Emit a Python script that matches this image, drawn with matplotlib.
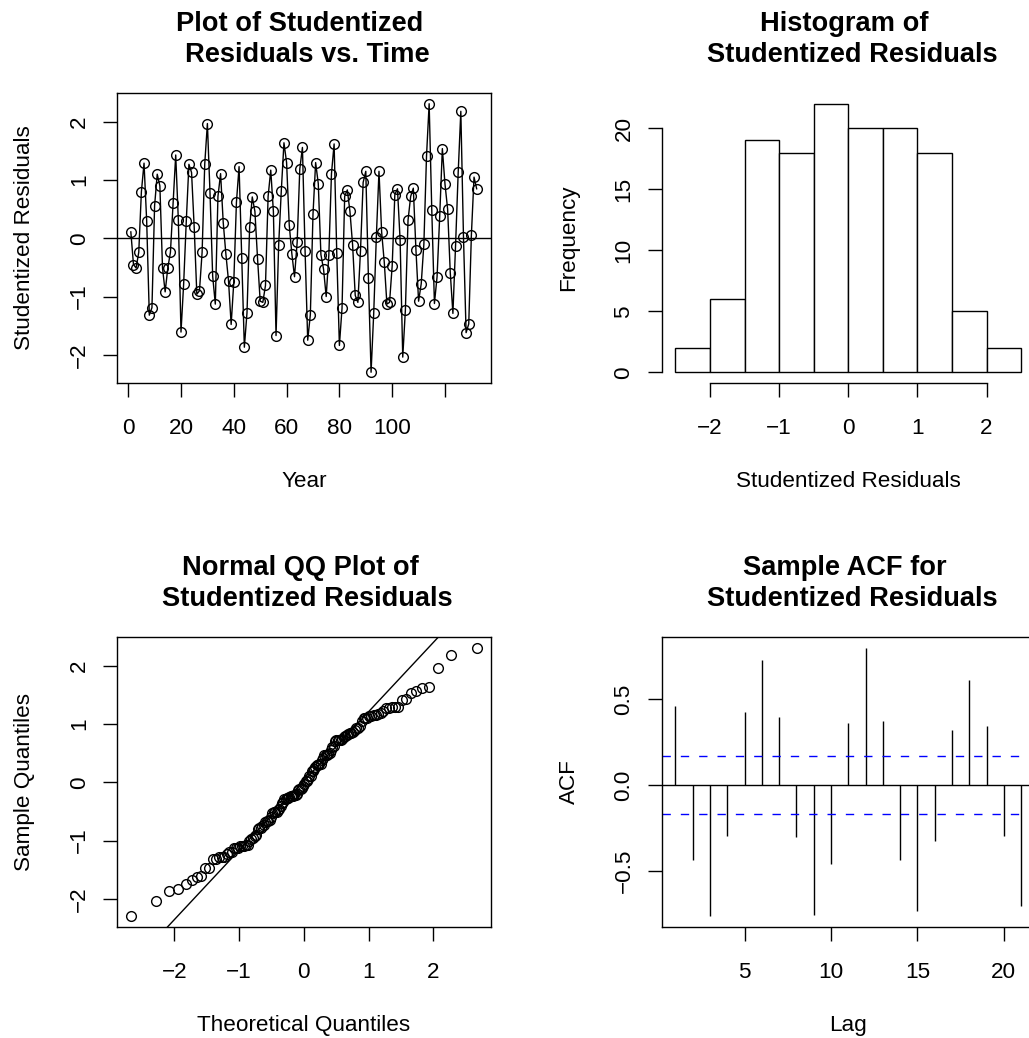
import numpy as np
import matplotlib
matplotlib.use("Agg")
import matplotlib.pyplot as plt
from statistics import NormalDist

# ---------------- data ----------------
resid = [0.11, -0.45, -0.51, -0.24, 0.80, 1.29, 0.30, -1.32, -1.19, 0.56,
         1.10, 0.90, -0.51, -0.92, -0.51, -0.24, 0.60, 1.43, 0.31, -1.61,
         -0.79, 0.29, 1.27, 1.13, 0.19, -0.96, -0.90, -0.24, 1.28, 1.97,
         0.77, -0.65, -1.13, 0.72, 1.11, 0.27, -0.27, -0.73, -1.48, -0.75,
         0.62, 1.23, -0.34, -1.87, -1.28, 0.19, 0.71, 0.46, -0.35, -1.08,
         -1.10, -0.81, 0.72, 1.17, 0.46, -1.67, -0.11, 0.82, 1.64, 1.30,
         0.23, -0.27, -0.66, -0.07, 1.19, 1.56, -0.21, -1.75, -1.31, 0.41,
         1.30, 0.94, -0.28, -0.53, -1.00, -0.29, 1.11, 1.62, -0.25, -1.84,
         -1.20, 0.72, 0.83, 0.46, -0.11, -0.98, -1.10, -0.21, 0.96, 1.15,
         -0.69, -2.30, -1.29, 0.03, 1.15, 0.11, -0.41, -1.13, -1.10, -0.47,
         0.75, 0.85, -0.03, -2.04, -1.23, 0.31, 0.72, 0.86, -0.20, -1.08,
         -0.78, -0.10, 1.41, 2.31, 0.48, -1.12, -0.66, 0.38, 1.54, 0.93,
         0.50, -0.59, -1.29, -0.13, 1.13, 2.18, 0.03, -1.62, -1.47, 0.06,
         1.05, 0.85]
years = list(range(1, len(resid) + 1))

hist_breaks = [-2.5, -2.0, -1.5, -1.0, -0.5, 0.0, 0.5, 1.0, 1.5, 2.0, 2.5]
hist_counts = [2, 6, 19, 18, 22, 20, 20, 18, 5, 2]

acf_lags = list(range(1, 22))
acf_vals = [0.461, -0.436, -0.766, -0.297, 0.424, 0.733, 0.397, -0.304, -0.758, -0.461,
            0.364, 0.802, 0.372, -0.440, -0.738, -0.326, 0.324, 0.614, 0.343, -0.295, -0.709]

ts_xticks = [0, 20, 40, 60, 80, 100, 120]
ts_xticklabels = ["0", "20", "40", "60", "80", "100", ""]
ts_yticks = [-2, -1, 0, 1, 2]
hist_xticks = [-2, -1, 0, 1, 2]
hist_yticks = [0, 5, 10, 15, 20]
qq_ticks = [-2, -1, 0, 1, 2]
acf_xticks = [5, 10, 15, 20]
acf_yticks = [-0.5, 0.0, 0.5]
acf_yticklabels = ["\u22120.5", "0.0", "0.5"]

# ---------------- style ----------------
W, H = 1029, 1038
DPI = 100
FONT = "Liberation Sans"
FS = 16.2
TFS = 19.6
LW = 1.0
TICKLEN = 9.9  # points
plt.rcParams["font.family"] = [FONT, "DejaVu Sans"]
plt.rcParams["axes.unicode_minus"] = True

fig = plt.figure(figsize=(W / DPI, H / DPI), dpi=DPI)
fig.patch.set_facecolor("white")


def add_ax(x0, y0, x1, y1):
    return fig.add_axes([x0 / W, 1 - y1 / H, (x1 - x0) / W, (y1 - y0) / H])


def px2pt(p):
    return p * 72.0 / DPI


def style_axes(ax, box=True):
    for s in ax.spines.values():
        s.set_linewidth(LW)
        s.set_visible(box)
    ax.tick_params(direction="out", length=TICKLEN, width=LW, labelsize=FS,
                   colors="black")
    ax.set_facecolor("none")


def fix_ticklabels(ax):
    # x tick labels: baseline 50.6 px below bottom of box
    ax.tick_params(axis="x", pad=px2pt(50.6) - TICKLEN)
    for lab in ax.get_xticklabels():
        lab.set_va("baseline")
        lab.set_fontsize(FS)
    # y tick labels: rotated, baseline 32 px left of box
    ax.tick_params(axis="y", pad=px2pt(32) - TICKLEN)
    for lab in ax.get_yticklabels():
        lab.set_rotation(90)
        lab.set_rotation_mode("anchor")
        lab.set_va("baseline")
        lab.set_ha("center")
        lab.set_fontsize(FS)


def labels(ax, box, xlab, ylab):
    x0, y0, x1, y1 = box
    w, h = x1 - x0, y1 - y0
    ax.set_xlabel(xlab, fontsize=FS, va="baseline", ha="center")
    ax.xaxis.set_label_coords(0.5, -104.0 / h)
    ax.set_ylabel(ylab, fontsize=FS, va="baseline", ha="center",
                  rotation=90, rotation_mode="anchor")
    ax.yaxis.set_label_coords(-87.0 / w, 0.5)


def title(box, line1, line2):
    x0, y0, x1, y1 = box
    cx = (x0 + x1) / 2
    sp = 3.8
    fig.text((cx - sp) / W, 1 - (y0 - 62) / H, line1, ha="center", va="baseline",
             fontsize=TFS, fontweight="bold")
    fig.text((cx + sp) / W, 1 - (y0 - 31) / H, line2, ha="center", va="baseline",
             fontsize=TFS, fontweight="bold")


MS = 7.0
MEW = 1.0

# ---------------- panel 1: time series ----------------
b1 = (117, 93, 490.5, 383)
ax1 = add_ax(*b1)
style_axes(ax1)
ax1.plot(years, resid, color="black", lw=LW, marker="o", ms=MS, mfc="none",
         mec="black", mew=MEW)
ax1.axhline(0, color="black", lw=LW)
n = len(resid)
ext = 0.04 * (n - 1)
ax1.set_xlim(1 - ext, n + ext)
rng = max(resid) - min(resid)
ax1.set_ylim(min(resid) - 0.04 * rng, max(resid) + 0.04 * rng)
ax1.set_xticks(ts_xticks)
ax1.set_xticklabels(ts_xticklabels)
ax1.set_yticks(ts_yticks)
ax1.set_yticklabels(["\u22122", "\u22121", "0", "1", "2"])
fix_ticklabels(ax1)
labels(ax1, b1, "Year", "Studentized Residuals")
title(b1, "Plot of Studentized", "Residuals vs. Time")

# ---------------- panel 2: histogram ----------------
b2 = (661.5, 93, 1035, 383)
ax2 = add_ax(*b2)
style_axes(ax2, box=False)
ax2.spines["left"].set_visible(True)
ax2.spines["bottom"].set_visible(True)
lefts = hist_breaks[:-1]
widths = [hist_breaks[i + 1] - hist_breaks[i] for i in range(len(lefts))]
ax2.bar(lefts, hist_counts, width=widths, align="edge", color="white",
        edgecolor="black", linewidth=LW)
xr = hist_breaks[-1] - hist_breaks[0]
ax2.set_xlim(hist_breaks[0] - 0.04 * xr, hist_breaks[-1] + 0.04 * xr)
yr = max(hist_counts)
ax2.set_ylim(-0.04 * yr, yr * 1.04)
ax2.set_xticks(hist_xticks)
ax2.set_xticklabels(["\u22122", "\u22121", "0", "1", "2"])
ax2.set_yticks(hist_yticks)
ax2.set_yticklabels([str(v) for v in hist_yticks])
ax2.spines["left"].set_bounds(hist_yticks[0], hist_yticks[-1])
ax2.spines["bottom"].set_bounds(hist_xticks[0], hist_xticks[-1])
fix_ticklabels(ax2)
labels(ax2, b2, "Studentized Residuals", "Frequency")
title(b2, "Histogram of", "Studentized Residuals")

# ---------------- panel 3: QQ plot ----------------
b3 = (117, 637, 490.5, 927)
ax3 = add_ax(*b3)
style_axes(ax3)
ys = np.sort(np.array(resid))
nd = NormalDist()
probs = [(i - 0.5) / n for i in range(1, n + 1)]
xs = np.array([nd.inv_cdf(p) for p in probs])
ax3.plot(xs, ys, ls="none", marker="o", ms=MS, mfc="none", mec="black", mew=MEW)
q1, q3 = np.quantile(ys, [0.25, 0.75])
z1, z3 = nd.inv_cdf(0.25), nd.inv_cdf(0.75)
slope = (q3 - q1) / (z3 - z1)
intercept = q1 - slope * z1
ax3.axline((0, intercept), slope=slope, color="black", lw=LW)
xr3 = xs.max() - xs.min()
ax3.set_xlim(xs.min() - 0.04 * xr3, xs.max() + 0.04 * xr3)
yr3 = ys.max() - ys.min()
ax3.set_ylim(ys.min() - 0.04 * yr3, ys.max() + 0.04 * yr3)
ax3.set_xticks(qq_ticks)
ax3.set_xticklabels(["\u22122", "\u22121", "0", "1", "2"])
ax3.set_yticks(qq_ticks)
ax3.set_yticklabels(["\u22122", "\u22121", "0", "1", "2"])
fix_ticklabels(ax3)
labels(ax3, b3, "Theoretical Quantiles", "Sample Quantiles")
title(b3, "Normal QQ Plot of", "Studentized Residuals")

# ---------------- panel 4: ACF ----------------
b4 = (661.5, 637, 1035, 927)
ax4 = add_ax(*b4)
style_axes(ax4)
clim = 1.96 / np.sqrt(n)
ax4.vlines(acf_lags, 0, acf_vals, color="black", lw=LW)
ax4.axhline(0, color="black", lw=LW)
for c in (clim, -clim):
    ax4.axhline(c, color="blue", lw=LW, linestyle=(0, (6.0, 7.2)))
lr = acf_lags[-1] - acf_lags[0]
ax4.set_xlim(acf_lags[0] - 0.04 * lr, acf_lags[-1] + 0.04 * lr)
lo = min(min(acf_vals), -clim)
hi = max(max(acf_vals), clim)
ax4.set_ylim(lo - 0.04 * (hi - lo), hi + 0.04 * (hi - lo))
ax4.set_xticks(acf_xticks)
ax4.set_xticklabels([str(v) for v in acf_xticks])
ax4.set_yticks(acf_yticks)
ax4.set_yticklabels(acf_yticklabels)
fix_ticklabels(ax4)
labels(ax4, b4, "Lag", "ACF")
title(b4, "Sample ACF for", "Studentized Residuals")

fig.savefig("out.png", dpi=DPI, facecolor="white")
